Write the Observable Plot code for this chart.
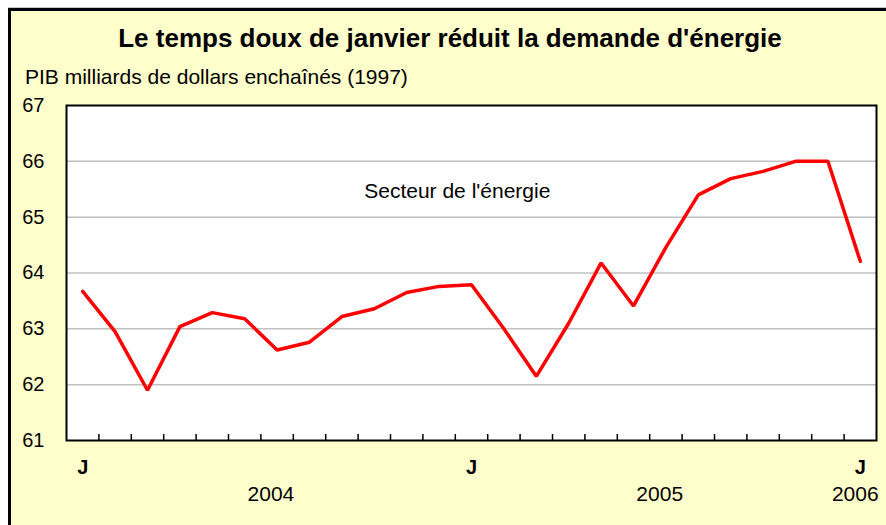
<!DOCTYPE html>
<html>
<head>
<meta charset="utf-8">
<script src="https://cdn.jsdelivr.net/npm/d3@7"></script>
<script src="https://cdn.jsdelivr.net/npm/@observablehq/plot@0.6"></script>
<style>
  html, body { margin: 0; padding: 0; background: #ffffff; width: 886px; height: 525px; overflow: hidden; font-family: "Liberation Sans", Arial, sans-serif; }
  #frame { position: absolute; left: 8px; top: 8px; width: 900px; height: 600px; background: #FFFFCC; border-top: 3px solid #000; border-left: 3px solid #000; box-shadow: 0 -1px 0 #c8c8c8; }
  #title { position: absolute; left: 0; top: 23px; width: 900px; text-align: center; font-weight: bold; font-size: 26px; line-height: 30px; color: #000; }
  #subtitle { position: absolute; left: 25px; top: 65px; font-size: 21px; line-height: 24px; color: #000; white-space: nowrap; }
  #chart { position: absolute; left: 0; top: 88px; }
</style>
</head>
<body>
<div id="frame"></div>
<div id="title">Le temps doux de janvier réduit la demande d'énergie</div>
<div id="subtitle">PIB milliards de dollars enchaînés (1997)</div>
<div id="chart"></div>
<script>
// Monthly periods, Jan 2004 – Jan 2006
const monthLetters = ["J","F","M","A","M","J","J","A","S","O","N","D",
                      "J","F","M","A","M","J","J","A","S","O","N","D",
                      "J"];
const years = [2004,2004,2004,2004,2004,2004,2004,2004,2004,2004,2004,2004,
               2005,2005,2005,2005,2005,2005,2005,2005,2005,2005,2005,2005,
               2006];
// Energy sector GDP, billions of chained 1997 dollars
const energyGDP = [63.67, 62.95, 61.90, 63.04, 63.29, 63.18, 62.62, 62.76, 63.22, 63.36, 63.65, 63.76,
                   63.79, 63.00, 62.15, 63.10, 64.18, 63.41, 64.46, 65.40, 65.69, 65.82, 66.00, 66.00,
                   64.21];
const yTicks = [61, 62, 63, 64, 65, 66, 67];
const seriesLabel = "Secteur de l'énergie";
const seriesLabelAt = {month: 12, value: 65.5};

const data = energyGDP.map((v, i) => ({i, x: i + 0.5, v, letter: monthLetters[i], year: years[i]}));
const janData = data.filter(d => d.letter === "J" && (d.i % 12 === 0));
const yearGroups = d3.groups(data, d => d.year).map(([year, ds]) => ({year, x: d3.mean(ds, d => d.x)}));
const font = '"Liberation Sans", Arial, sans-serif';

const chart = Plot.plot({
  width: 886,
  height: 437,
  marginLeft: 66,
  marginRight: 10,
  marginTop: 17,
  marginBottom: 85,
  style: {background: "transparent", fontFamily: font, color: "#000"},
  x: {domain: [0, data.length], axis: null},
  y: {domain: [61, 67], axis: null},
  marks: [
    Plot.frame({fill: "white"}),
    Plot.ruleY(yTicks.slice(1, -1), {stroke: "#c0c0c0", strokeWidth: 1.5}),
    Plot.lineY(data, {x: "x", y: "v", stroke: "#ff0000", strokeWidth: 3.5, strokeLinejoin: "miter"}),
    Plot.frame({stroke: "#000", strokeWidth: 2}),
    Plot.axisX({ticks: d3.range(1, data.length), tickSize: -6, tickFormat: () => "", stroke: "#000", strokeWidth: 1.5}),
    Plot.axisY({ticks: yTicks, tickSize: 0, tickPadding: 22, fontSize: 20, tickFormat: d3.format("d"), label: null, fill: "#000"}),
    Plot.text(janData, {x: "x", frameAnchor: "bottom", dy: 33, text: () => "J", fontWeight: "bold", fontSize: 20, fill: "#000"}),
    Plot.text(yearGroups.filter(d => d.year !== 2006), {x: "x", frameAnchor: "bottom", dy: 60, dx: 10, text: d => String(d.year), fontSize: 21, fill: "#000"}),
    Plot.text(yearGroups.filter(d => d.year === 2006), {x: "x", frameAnchor: "bottom", dy: 60, dx: -5, text: d => String(d.year), fontSize: 21, fill: "#000"}),
    Plot.text([seriesLabelAt], {x: "month", y: "value", dx: 2, dy: 2, text: () => seriesLabel, fontSize: 21, fill: "#000"})
  ]
});
document.getElementById("chart").appendChild(chart);
</script>
</body>
</html>
